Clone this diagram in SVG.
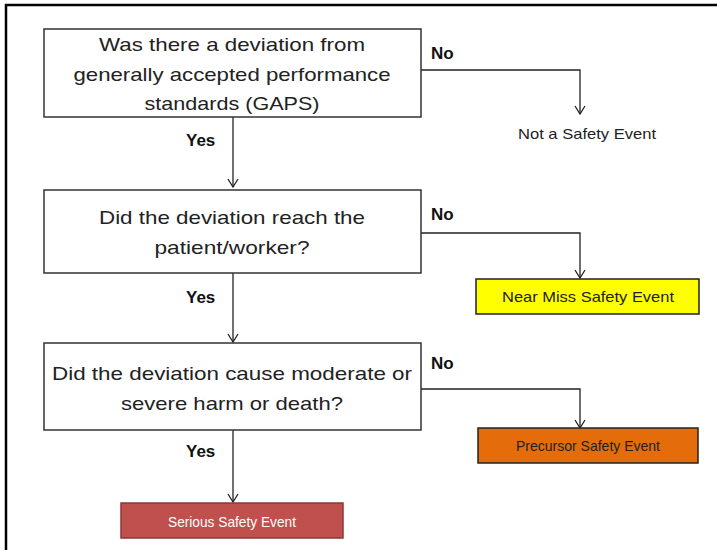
<svg xmlns="http://www.w3.org/2000/svg" width="717" height="550" viewBox="0 0 717 550">
<style>
.q{fill:#fff;stroke:#333;stroke-width:1.5}
.qt{font-family:"Liberation Sans",Arial,sans-serif;font-size:19px;fill:#222;text-anchor:middle}
.lb{font-family:"Liberation Sans",Arial,sans-serif;font-size:17px;font-weight:bold;fill:#111}
.rt{font-family:"Liberation Sans",Arial,sans-serif;font-size:15px;fill:#222;text-anchor:middle}
.ln{fill:none;stroke:#222;stroke-width:1.3}
</style>
<defs>
<marker id="ah" markerWidth="12" markerHeight="12" refX="11" refY="6" orient="auto" markerUnits="userSpaceOnUse" viewBox="0 0 12 12">
<polyline points="3,1 11,6 3,11" fill="none" stroke="#222" stroke-width="1.3"/>
</marker>
</defs>
<rect width="717" height="550" fill="#fff"/>
<path d="M6,560 V5 H717" fill="none" stroke="#000" stroke-width="2.5"/>
<g id="connectors">
<path class="ln" d="M421,70 H580 V114" marker-end="url(#ah)"/>
<path class="ln" d="M233,117 V187" marker-end="url(#ah)"/>
<path class="ln" d="M421,233 H580 V278" marker-end="url(#ah)"/>
<path class="ln" d="M233,273 V342" marker-end="url(#ah)"/>
<path class="ln" d="M421,389 H580 V428" marker-end="url(#ah)"/>
<path class="ln" d="M233,430 V502" marker-end="url(#ah)"/>
<text class="lb" x="431" y="59">No</text>
<text class="lb" x="431" y="220">No</text>
<text class="lb" x="431" y="369">No</text>
<text class="lb" x="186" y="146">Yes</text>
<text class="lb" x="186" y="303">Yes</text>
<text class="lb" x="186" y="457">Yes</text>
</g>
<g id="q1">
<rect class="q" x="44" y="29" width="377" height="88"/>
<text class="qt" x="232" y="51" textLength="266" lengthAdjust="spacingAndGlyphs">Was there a deviation from</text>
<text class="qt" x="232" y="81" textLength="317" lengthAdjust="spacingAndGlyphs">generally accepted performance</text>
<text class="qt" x="232" y="110" textLength="175" lengthAdjust="spacingAndGlyphs">standards (GAPS)</text>
</g>
<g id="q2">
<rect class="q" x="44" y="190" width="377" height="83"/>
<text class="qt" x="232" y="224" textLength="266" lengthAdjust="spacingAndGlyphs">Did the deviation reach the</text>
<text class="qt" x="232" y="254" textLength="155" lengthAdjust="spacingAndGlyphs">patient/worker?</text>
</g>
<g id="q3">
<rect class="q" x="44" y="343" width="377" height="87"/>
<text class="qt" x="232" y="380" textLength="360" lengthAdjust="spacingAndGlyphs">Did the deviation cause moderate or</text>
<text class="qt" x="232" y="410" textLength="222" lengthAdjust="spacingAndGlyphs">severe harm or death?</text>
</g>
<g id="notSafety">
<text class="rt" x="587" y="139" textLength="138" lengthAdjust="spacingAndGlyphs">Not a Safety Event</text>
</g>
<g id="nearMiss">
<rect x="476" y="279" width="223" height="35" fill="#ffff00" stroke="#222" stroke-width="1.5"/>
<text class="rt" x="588" y="302" textLength="172" lengthAdjust="spacingAndGlyphs">Near Miss Safety Event</text>
</g>
<g id="precursor">
<rect x="478" y="428" width="220" height="35" fill="#e46c0a" stroke="#222" stroke-width="1.5"/>
<text class="rt" x="588" y="451" textLength="144" lengthAdjust="spacingAndGlyphs">Precursor Safety Event</text>
</g>
<g id="serious">
<rect x="121" y="503" width="222" height="35" fill="#c0504d" stroke="#8c3836" stroke-width="1.5"/>
<text class="rt" x="232" y="527" style="fill:#fff" textLength="128" lengthAdjust="spacingAndGlyphs">Serious Safety Event</text>
</g>
</svg>
